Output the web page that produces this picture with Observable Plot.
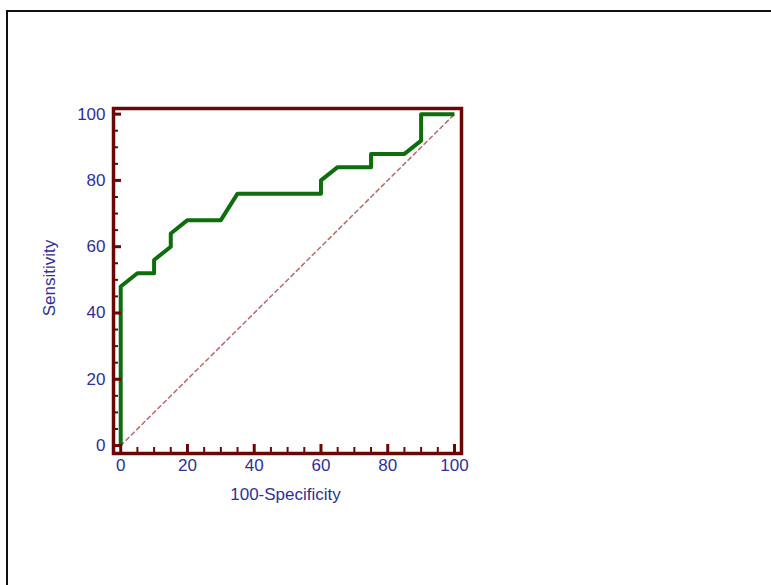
<!DOCTYPE html>
<html>
<head>
<meta charset="utf-8">
<script src="https://cdn.jsdelivr.net/npm/d3@7"></script>
<script src="https://cdn.jsdelivr.net/npm/@observablehq/plot@0.6"></script>
<style>
  html, body { margin: 0; padding: 0; background: #fff; width: 771px; height: 585px; overflow: hidden; }
  #page { position: relative; width: 771px; height: 585px; overflow: hidden; }
  .bar { position: absolute; background: #111; }
  #topbar { left: 6px; top: 10px; width: 765px; height: 2px; }
  #leftbar { left: 6px; top: 10px; width: 2px; height: 575px; }
  #chart { position: absolute; left: 0; top: 0; }
</style>
</head>
<body>
<div id="page"><div class="bar" id="topbar"></div><div class="bar" id="leftbar"></div><div id="chart"></div></div>
<script>
// ROC curve points (100-Specificity, Sensitivity)
const fpr = [0, 0, 5, 10, 10, 15, 15, 20, 30, 35, 60, 60, 65, 75, 75, 85, 90, 90, 100];
const tpr = [0, 48, 52, 52, 56, 60, 64, 68, 68, 76, 76, 80, 84, 84, 88, 88, 92, 100, 100];
const diagX = [0, 100];
const diagY = [0, 100];
const majorTicks = [0, 20, 40, 60, 80, 100];
const minorTicks = [5, 10, 15, 25, 30, 35, 45, 50, 55, 65, 70, 75, 85, 90, 95];
const xLabel = "100-Specificity";
const yLabel = "Sensitivity";

const roc = fpr.map((x, i) => ({x, y: tpr[i]}));
const diag = diagX.map((x, i) => ({x, y: diagY[i]}));

const maroon = "#6b0606";
const blue = "#2f2f96";
const green = "#0e6e0e";
const frameW = 461 - 113;
const frameH = 453 - 108;

const chart = Plot.plot({
  width: 771,
  height: 585,
  marginLeft: 113,
  marginRight: 771 - 461,
  marginTop: 108,
  marginBottom: 585 - 453,
  style: {fontFamily: "Liberation Sans, Arial, sans-serif", fontSize: "17px", background: "transparent", overflow: "visible"},
  x: {domain: [-2.16, 102.1]},
  y: {domain: [-2.4, 101.7]},
  marks: [
    Plot.line(diag, {x: "x", y: "y", stroke: "#b56a6a", strokeWidth: 1.5, strokeDasharray: "4,3.5"}),
    Plot.line(roc, {x: "x", y: "y", stroke: green, strokeWidth: 4, strokeLinejoin: "round", strokeLinecap: "butt"}),
    // inward ticks on the left edge
    Plot.tickY(majorTicks, {y: d => d, stroke: maroon, strokeWidth: 3, insetRight: frameW - 8}),
    Plot.tickY(minorTicks, {y: d => d, stroke: maroon, strokeWidth: 2, insetRight: frameW - 5}),
    // inward ticks on the bottom edge
    Plot.tickX(majorTicks, {x: d => d, stroke: maroon, strokeWidth: 3, insetTop: frameH - 9}),
    Plot.tickX(minorTicks, {x: d => d, stroke: maroon, strokeWidth: 2, insetTop: frameH - 6}),
    Plot.frame({stroke: maroon, strokeWidth: 3.5}),
    Plot.axisY(majorTicks, {anchor: "left", tickSize: 0, tickPadding: 8, label: null, fill: blue, fontSize: 17}),
    Plot.axisX(majorTicks, {anchor: "bottom", tickSize: 0, tickPadding: 5, label: null, fill: blue, fontSize: 17}),
    Plot.text([yLabel], {frameAnchor: "left", textAnchor: "middle", dx: -64, dy: -3, rotate: -90, fill: blue, fontSize: 17, text: d => d, style: "letter-spacing:0.6px"}),
    Plot.text([xLabel], {frameAnchor: "bottom", textAnchor: "middle", dx: -2, dy: 41, lineAnchor: "middle", fill: blue, fontSize: 17, text: d => d, style: "letter-spacing:0.8px"})
  ]
});
document.getElementById("chart").appendChild(chart);
</script>
</body>
</html>
